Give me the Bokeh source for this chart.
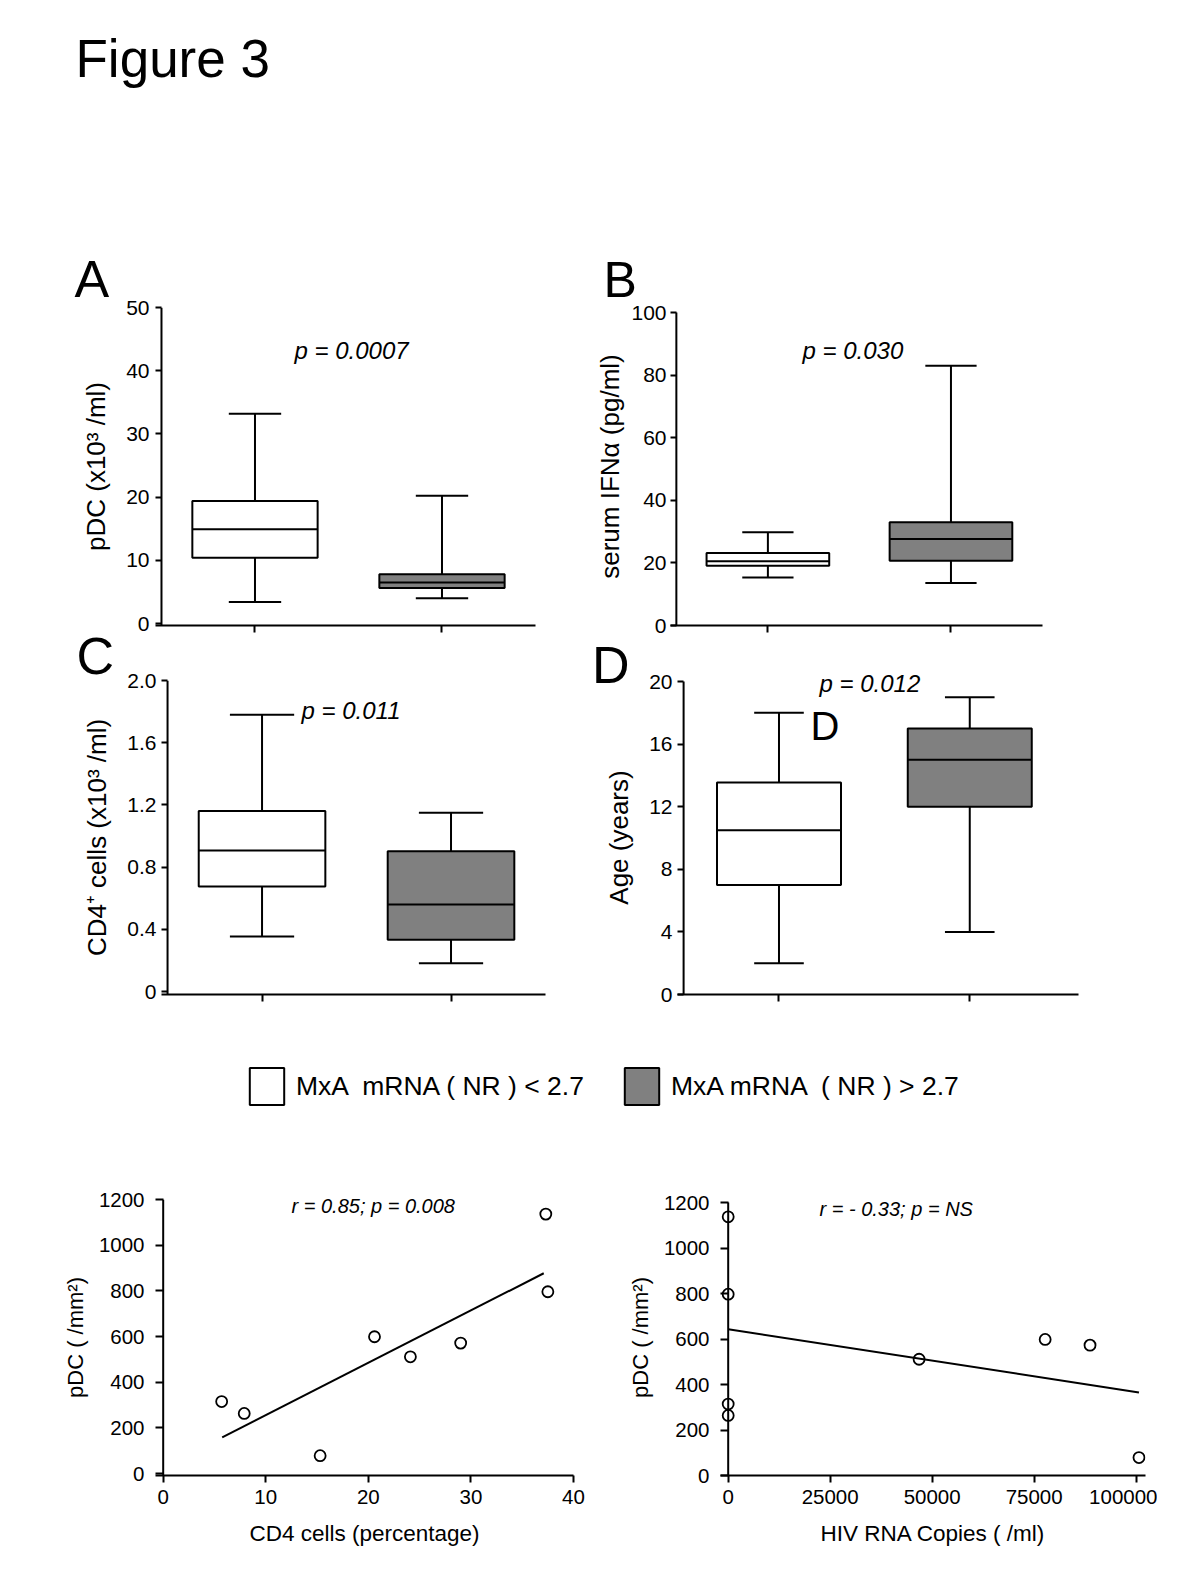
from bokeh.plotting import figure
from bokeh.layouts import column, row
from bokeh.models import (ColumnDataSource, Label, FixedTicker, Legend,
                          LegendItem, Range1d, GridBox)
from bokeh.transform import dodge
from bokeh.embed import file_html
from bokeh.resources import INLINE

FONT = "Liberation Sans"
GRAY = "#808080"
INK = "black"
NAN = float("nan")

# ---------------- data ----------------
groups = [1, 2]
group_fill = ["white", GRAY]
group_names = ["MxA  mRNA ( NR ) < 2.7", "MxA mRNA  ( NR ) > 2.7"]

# Panel A : pDC (x10^3/ml)
a_low = [3.4, 4.0]
a_q1 = [10.4, 5.6]
a_med = [14.9, 6.5]
a_q3 = [19.4, 7.8]
a_high = [33.2, 20.2]
a_ticks = [0, 10, 20, 30, 40, 50]
a_tick_labels = ["0", "10", "20", "30", "40", "50"]

# Panel B : serum IFN-alpha (pg/ml)
b_low = [15.3, 13.6]
b_q1 = [19.1, 20.7]
b_med = [20.5, 27.6]
b_q3 = [23.2, 33.0]
b_high = [29.8, 83.0]
b_ticks = [0, 20, 40, 60, 80, 100]
b_tick_labels = ["0", "20", "40", "60", "80", "100"]

# Panel C : CD4+ cells (x10^3/ml)
c_low = [0.354, 0.182]
c_q1 = [0.675, 0.332]
c_med = [0.907, 0.559]
c_q3 = [1.16, 0.902]
c_high = [1.78, 1.149]
c_ticks = [0, 0.4, 0.8, 1.2, 1.6, 2.0]
c_tick_labels = ["0", "0.4", "0.8", "1.2", "1.6", "2.0"]

# Panel D : Age (years)
d_low = [2.0, 4.0]
d_q1 = [7.0, 12.0]
d_med = [10.5, 15.0]
d_q3 = [13.55, 17.0]
d_high = [18.0, 19.0]
d_ticks = [0, 4, 8, 12, 16, 20]
d_tick_labels = ["0", "4", "8", "12", "16", "20"]

# Scatter E : pDC vs CD4 %
cd4_pct = [5.7, 7.9, 15.3, 20.6, 24.1, 29.0, 37.3, 37.5]
pdc_e = [315, 263, 78, 599, 511, 571, 1136, 796]
e_fit_x = [5.75, 37.1]
e_fit_y = [158, 877]
e_xticks = [0, 10, 20, 30, 40]
e_xtick_labels = ["0", "10", "20", "30", "40"]

# Scatter F : pDC vs HIV RNA copies
hiv_rna = [0, 0, 0, 0, 46800, 77700, 88700, 100700]
pdc_f = [1137, 797, 314, 264, 511, 598, 573, 79]
f_fit_x = [0, 100700]
f_fit_y = [643, 365]
f_xticks = [0, 25000, 50000, 75000, 100000]
f_xtick_labels = ["0", "25000", "50000", "75000", "100000"]

pdc_ticks = [0, 200, 400, 600, 800, 1000, 1200]
pdc_tick_labels = ["0", "200", "400", "600", "800", "1000", "1200"]


# ---------------- helpers ----------------
def y_range_for(frame_top, frame_bottom, v0, p0, v1, p1):
    """range so that value v0 sits at pixel p0 and v1 at pixel p1"""
    scale = (p0 - p1) / (v1 - v0)
    return (v0 - (frame_bottom - p0) / scale, v1 + (p1 - frame_top) / scale)


def make_fig(fig_x, fig_y, fig_w, fig_h, frame, xr, yr):
    """frame = (left, top, width, height) in page pixels"""
    fl, ft, fw, fh = frame
    left = fl - fig_x
    top = ft - fig_y
    right = fig_w - left - fw
    bottom = fig_h - top - fh
    p = figure(width=fig_w, height=fig_h,
               x_range=Range1d(xr[0], xr[1]), y_range=Range1d(yr[0], yr[1]),
               min_border_left=left, min_border_right=right,
               min_border_top=top, min_border_bottom=bottom,
               output_backend="svg", toolbar_location=None)
    p.grid.visible = False
    p.outline_line_color = None
    return p


def style_y(p, ticks, labels, label, origin, tick_in, standoff, tick_size,
            lab_size, lab_standoff):
    ya = p.yaxis[0]
    ya.ticker = FixedTicker(ticks=ticks)
    ya.major_label_overrides = dict(zip(ticks, labels))
    ya.axis_line_color = None
    ya.major_tick_in = tick_in
    ya.major_tick_out = 0
    ya.major_tick_line_width = 2
    ya.major_tick_line_color = INK
    ya.minor_tick_line_color = None
    ya.major_label_text_font = FONT
    ya.major_label_text_font_size = tick_size
    ya.major_label_text_color = INK
    ya.major_label_standoff = standoff
    ya.axis_label = label
    ya.axis_label_text_font = FONT
    ya.axis_label_text_font_size = lab_size
    ya.axis_label_text_font_style = "normal"
    ya.axis_label_text_color = INK
    ya.axis_label_standoff = lab_standoff
    # the y axis line itself, drawn at the x origin
    p.segment(x0=origin, y0=p.y_range.start, x1=origin, y1=ticks[-1],
              line_color=INK, line_width=2)


def style_x(p, ticks, labels=None, label=None, standoff=7, lab_standoff=14):
    xa = p.xaxis[0]
    xa.ticker = FixedTicker(ticks=ticks)
    xa.axis_line_width = 2
    xa.axis_line_color = INK
    xa.major_tick_out = 7
    xa.major_tick_in = 0
    xa.major_tick_line_width = 2
    xa.major_tick_line_color = INK
    xa.minor_tick_line_color = None
    if labels is None:
        xa.major_label_overrides = {t: "" for t in ticks}
        xa.major_label_text_font_size = "0px"
        xa.major_label_standoff = 0
    else:
        xa.major_label_overrides = dict(zip(ticks, labels))
        xa.major_label_text_font = FONT
        xa.major_label_text_font_size = "20.5px"
        xa.major_label_text_color = INK
        xa.major_label_standoff = standoff
    if label:
        xa.axis_label = label
        xa.axis_label_text_font = FONT
        xa.axis_label_text_font_size = "22.5px"
        xa.axis_label_text_font_style = "normal"
        xa.axis_label_text_color = INK
        xa.axis_label_standoff = lab_standoff


def draw_boxes(p, low, q1, med, q3, high, box_w, cap_w):
    src = ColumnDataSource(dict(x=groups, low=low, q1=q1, med=med, q3=q3,
                                high=high, fill=group_fill))
    p.segment(x0="x", y0="low", x1="x", y1="high", source=src,
              line_color=INK, line_width=2)
    p.vbar(x="x", bottom="q1", top="q3", width=box_w, source=src,
           fill_color="fill", line_color=INK, line_width=2)
    p.segment(x0=dodge("x", -box_w / 2), y0="med", x1=dodge("x", box_w / 2), y1="med",
              source=src, line_color=INK, line_width=2)
    for col in ("low", "high"):
        p.segment(x0=dodge("x", -cap_w / 2), y0=col, x1=dodge("x", cap_w / 2), y1=col,
                  source=src, line_color=INK, line_width=2)


BOX_X = (0.468, 2.5)

# ---------------- Row 1 : A, B (frames share top 307 / bottom 625) ----------------
yA = y_range_for(307, 625, 0, 623, 50, 307)
pA = make_fig(0, 0, 578, 636, (155, 307, 380, 318), BOX_X, yA)
draw_boxes(pA, a_low, a_q1, a_med, a_q3, a_high, 0.67, 0.28)
style_y(pA, a_ticks, a_tick_labels, "pDC (x10³ /ml)", 0.5, 6, 6, "21px", "26px", 12)
style_x(pA, groups)

yB = y_range_for(307, 625, 0, 625, 100, 312)
pB = make_fig(578, 0, 484, 636, (670, 307, 372, 318), BOX_X, yB)
draw_boxes(pB, b_low, b_q1, b_med, b_q3, b_high, 0.67, 0.28)
style_y(pB, b_ticks, b_tick_labels, "serum IFNα (pg/ml)", 0.5, 6, 4, "21px", "26px", 3)
style_x(pB, groups)

# ---------------- Row 2 : C, D (frames share top 680 / bottom 994) ----------------
yC = y_range_for(680, 994, 0, 991, 2.0, 680)
pC = make_fig(0, 636, 578, 372, (161, 680, 384, 314), BOX_X, yC)
draw_boxes(pC, c_low, c_q1, c_med, c_q3, c_high, 0.67, 0.34)
style_y(pC, c_ticks, c_tick_labels, "CD4⁺ cells (x10³ /ml)", 0.5, 6, 5, "21px", "26px", 12)
style_x(pC, groups)

yD = y_range_for(680, 994, 0, 994, 20, 681)
pD = make_fig(578, 636, 520, 372, (677, 680, 401, 314), (0.468, 2.57), yD)
draw_boxes(pD, d_low, d_q1, d_med, d_q3, d_high, 0.65, 0.26)
style_y(pD, d_ticks, d_tick_labels, "Age (years)", 0.5, 6, 5, "21px", "26px", 12)
style_x(pD, groups)

# ---------------- Legend strip ----------------
leg = figure(width=1100, height=130, x_range=(0, 1), y_range=(0, 1),
             x_axis_location=None, y_axis_location=None, min_border=0,
             output_backend="svg", toolbar_location=None)
leg.grid.visible = False
leg.outline_line_color = None
items = []
for name, fill in zip(group_names, group_fill):
    # no drawable bar (NaN): only the legend swatch shows
    r = leg.vbar(x=[NAN], top=[NAN], width=0.1, fill_color=fill, line_color=INK, line_width=2)
    items.append(LegendItem(label=name, renderers=[r]))
legend = Legend(items=items, orientation="horizontal", location=(245, 29),
                glyph_width=43, glyph_height=46, label_standoff=8, spacing=36,
                padding=0, margin=0, border_line_color=None, background_fill_alpha=0,
                label_text_font=FONT, label_text_font_size="26.5px", label_text_color=INK)
leg.add_layout(legend)

# ---------------- Row 3 : E, F (frames share top 1199 / bottom 1475) ----------------
yE = y_range_for(1199, 1475, 0, 1473, 1200, 1199)
pE = make_fig(0, 1138, 585, 425, (155, 1199, 418, 276), (-0.75, 40), yE)
pE.line(e_fit_x, e_fit_y, line_color=INK, line_width=2)
pE.scatter(cd4_pct, pdc_e, marker="circle", size=11, fill_color=None,
           line_color=INK, line_width=1.8)
style_y(pE, pdc_ticks, pdc_tick_labels, "pDC ( /mm²)", 0, 8, 11, "20.5px", "22px", 8)
style_x(pE, e_xticks, e_xtick_labels, "CD4 cells (percentage)")

yF = y_range_for(1199, 1475, 0, 1475, 1200, 1202)
pF = make_fig(585, 1138, 572, 425, (720, 1199, 425, 276), (-1886, 102300), yF)
pF.line(f_fit_x, f_fit_y, line_color=INK, line_width=2)
pF.scatter(hiv_rna, pdc_f, marker="circle", size=11, fill_color=None,
           line_color=INK, line_width=1.8)
style_y(pF, pdc_ticks, pdc_tick_labels, "pDC ( /mm²)", 0, 8, 11, "20.5px", "22px", 8)
style_x(pF, f_xticks, f_xtick_labels, "HIV RNA Copies ( /ml)")

# ---------------- Transparent overlay for the free texts (page pixel coords) ----------------
OW, OH = 1150, 1560
overlay = figure(width=OW, height=OH, x_range=Range1d(0, OW), y_range=Range1d(OH, 0),
                 x_axis_location=None, y_axis_location=None, min_border=0,
                 output_backend="svg", toolbar_location=None)
overlay.grid.visible = False
overlay.outline_line_color = None
overlay.background_fill_alpha = 0
overlay.border_fill_alpha = 0

notes = [
    # text, x (left), y (vertical centre of capitals), size, style
    ("Figure 3", 75, 57.5, "53px", "normal"),
    ("A", 74, 278.3, "52px", "normal"),
    ("B", 603, 279.2, "50px", "normal"),
    ("C", 76, 655.8, "52px", "normal"),
    ("D", 591.5, 664.5, "52px", "normal"),
    ("D", 810, 725.8, "40px", "normal"),
    ("p = 0.0007", 294, 350, "24px", "italic"),
    ("p = 0.030", 802, 350, "24px", "italic"),
    ("p = 0.011", 301, 709.5, "24px", "italic"),
    ("p = 0.012", 819, 683, "24px", "italic"),
    ("r = 0.85; p = 0.008", 291, 1205.5, "20px", "italic"),
    ("r = - 0.33; p = NS", 819, 1208, "20px", "italic"),
]
for text, x, y, size, style in notes:
    overlay.add_layout(Label(x=x, y=y, text=text, text_font=FONT, text_font_size=size,
                             text_font_style=style, text_baseline="middle",
                             text_align="left", text_color=INK))

main = column(row(pA, pB), row(pC, pD), leg, row(pE, pF))
page = GridBox(children=[(main, 0, 0), (overlay, 0, 0)])

with open("out.html", "w") as f:
    f.write(file_html(page, INLINE))
